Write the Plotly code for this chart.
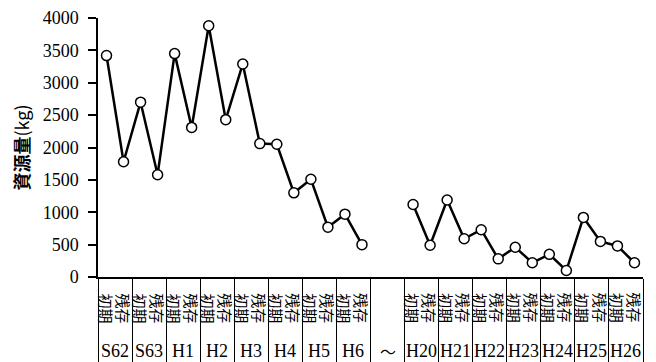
import plotly.graph_objects as go

years = ["S62", "S63", "H1", "H2", "H3", "H4", "H5", "H6", "～",
         "H20", "H21", "H22", "H23", "H24", "H25", "H26"]
stages = ["初期", "残存"]
initial = [3420, 2700, 3450, 3880, 3290, 2050, 1510, 970, None,
           1120, 1190, 730, 460, 350, 920, 480]
remaining = [1780, 1580, 2310, 2430, 2060, 1300, 770, 500, None,
             490, 590, 280, 220, 100, 550, 220]

# interleave into slot order
values = []
for a, b in zip(initial, remaining):
    values += [a, b]
slots = list(range(len(values)))

fig = go.Figure()
fig.add_trace(go.Scatter(
    x=slots, y=values, mode="lines+markers",
    line=dict(color="black", width=2.5),
    marker=dict(symbol="circle", size=10, color="white",
                line=dict(color="black", width=1.5)),
    connectgaps=False, showlegend=False, cliponaxis=False,
))

n = len(years)
boundaries = [2 * k - 0.5 for k in range(n + 1)]

annotations = []
for gi, yr in enumerate(years):
    center = 2 * gi + 0.5
    if yr == "～":
        annotations.append(dict(x=center, y=-0.285, xref="x", yref="paper",
                                text=yr, showarrow=False, yanchor="middle",
                                font=dict(family="Noto Sans CJK JP", size=16, color="black")))
        continue
    annotations.append(dict(x=center, y=-0.285, xref="x", yref="paper",
                            text=yr, showarrow=False, yanchor="middle",
                            font=dict(family="Liberation Serif", size=18, color="black")))
    for si, st in enumerate(stages):
        annotations.append(dict(x=2 * gi + si, y=-0.12, xref="x", yref="paper",
                                text=st, showarrow=False, textangle=90,
                                yanchor="middle", xanchor="center",
                                font=dict(family="Noto Sans CJK JP", size=15, color="black")))

fig.update_layout(
    width=648, height=354,
    margin=dict(l=90, r=13, t=10, b=85, autoexpand=False),
    paper_bgcolor="white", plot_bgcolor="white",
    annotations=annotations,
    xaxis=dict(range=[-0.5, 2 * n - 0.5], tickmode="array", tickvals=boundaries,
               showticklabels=False, ticks="outside", ticklen=85, tickwidth=1,
               tickcolor="black", showline=True, linecolor="black", linewidth=1.5,
               showgrid=False, zeroline=False, automargin=False),
    yaxis=dict(range=[0, 4000], tickmode="array",
               tickvals=list(range(0, 4001, 500)),
               ticks="outside", ticklen=8, tickcolor="black", tickwidth=1.5,
               ticklabelstandoff=6,
               showline=True, linecolor="black", linewidth=1.5,
               showgrid=False, zeroline=False, automargin=False,
               tickfont=dict(family="Liberation Serif", size=18, color="black"),
               title=dict(text="<b>資源量</b>(kg)", standoff=8,
                          font=dict(family="Noto Sans CJK JP", size=18, color="black"))),
)

fig.write_html("out.html")
